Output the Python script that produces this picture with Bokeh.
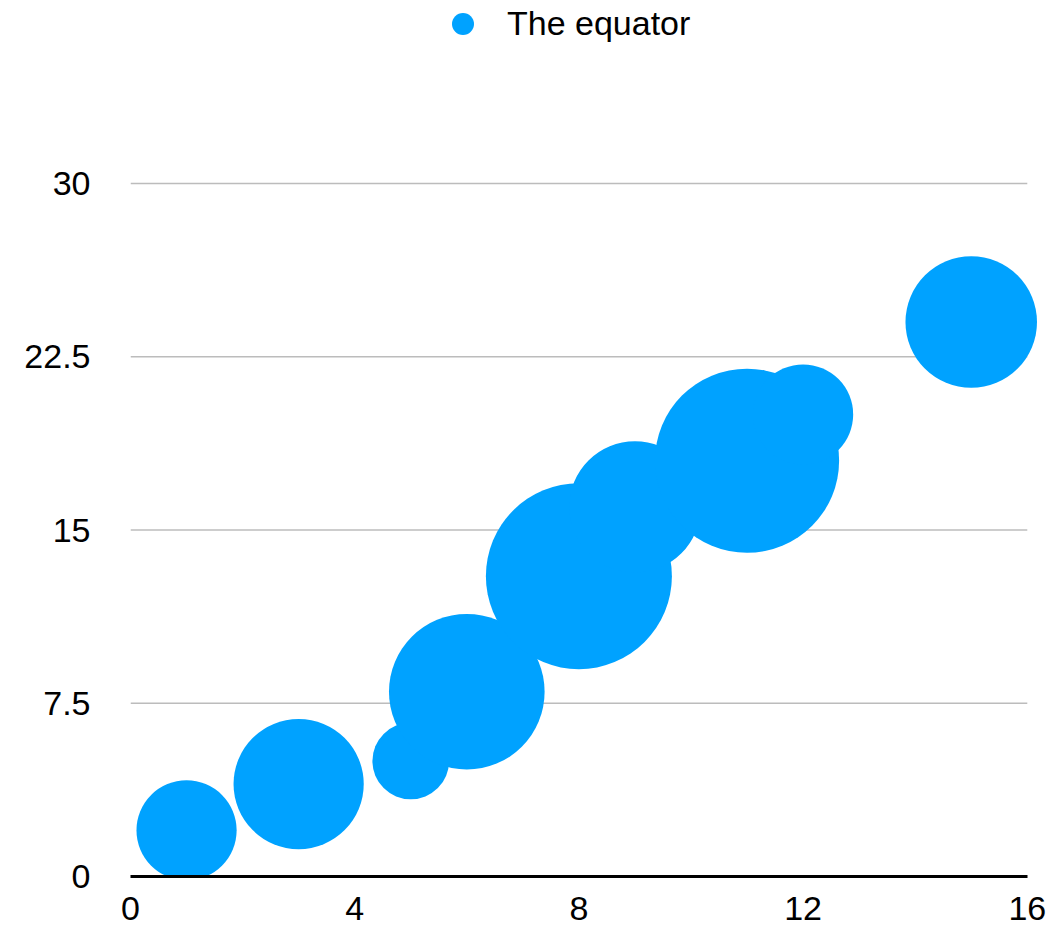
import numpy as np
from bokeh.plotting import figure
from bokeh.models import ColumnDataSource, FixedTicker, Legend, LegendItem, Range1d
from bokeh.embed import file_html
from bokeh.resources import INLINE

# Bubble series "The equator"
x_vals = [1, 3, 5, 6, 8, 9, 11, 12, 15]
y_vals = [2, 4, 5, 8, 13, 16, 18, 20, 24]
bubble_vals = [2.9, 4.9, 1.7, 7.0, 10.0, 5.0, 9.8, 2.9, 5.0]
series_name = "The equator"

x_ticks = [0, 4, 8, 12, 16]
y_ticks = [0, 7.5, 15, 22.5, 30]
y_tick_labels = ["0", "7.5", "15", "22.5", "30"]

FONT = "Liberation Sans"
FONT_SIZE = "34px"
BLUE = "#00A2FF"
MAX_DIAMETER = 186  # pixel diameter of the largest bubble

vals = np.array(bubble_vals, dtype=float)
diam = MAX_DIAMETER * np.sqrt(vals / vals.max())
src = ColumnDataSource(dict(x=x_vals, y=y_vals, d=diam))

# the frame runs to the top of the canvas so the legend can sit inside it;
# the y range above 30 is left empty
PLOT_TOP = 30 * 876 / 693

p = figure(width=1052, height=928, output_backend="svg", toolbar_location=None,
           x_range=Range1d(0, 16.2), y_range=Range1d(0, PLOT_TOP),
           min_border_left=130, min_border_right=14,
           min_border_top=0, min_border_bottom=52)
p.outline_line_color = None
p.background_fill_color = "white"
p.border_fill_color = "white"
p.xgrid.visible = False
p.ygrid.visible = False

# horizontal grid lines spanning the x extent 0..16
p.segment(x0=[0] * len(y_ticks[1:]), x1=[16] * len(y_ticks[1:]),
          y0=y_ticks[1:], y1=y_ticks[1:], line_color="#bcbcbc", line_width=1.5)

bubbles = p.scatter("x", "y", size="d", source=src, fill_color=BLUE, line_color=None)

xa = p.xaxis[0]
xa.ticker = FixedTicker(ticks=x_ticks)
xa.bounds = (0, 16)
xa.axis_line_color = "black"
xa.axis_line_width = 3
xa.major_tick_out = 0
xa.major_tick_in = 0
xa.minor_tick_out = 0
xa.minor_tick_in = 0
xa.major_label_standoff = 20
xa.major_label_text_font = FONT
xa.major_label_text_font_size = FONT_SIZE
xa.major_label_text_color = "black"

ya = p.yaxis[0]
ya.ticker = FixedTicker(ticks=y_ticks)
ya.major_label_overrides = {t: lab for t, lab in zip(y_ticks, y_tick_labels)}
ya.axis_line_color = None
ya.major_tick_out = 0
ya.major_tick_in = 0
ya.minor_tick_out = 0
ya.minor_tick_in = 0
ya.major_label_standoff = 40
ya.major_label_text_font = FONT
ya.major_label_text_font_size = FONT_SIZE
ya.major_label_text_color = "black"

# legend markers are drawn at 0.4 of the glyph box, so a 55px box gives a 22px dot
legend = Legend(items=[LegendItem(label=series_name, renderers=[bubbles])],
                location=(305, 825), orientation="horizontal",
                padding=0, margin=0, spacing=0,
                glyph_width=55, glyph_height=55, label_standoff=17,
                label_height=40, label_text_font=FONT,
                label_text_font_size=FONT_SIZE, label_text_color="black",
                border_line_color=None, background_fill_alpha=0)
p.add_layout(legend, "center")

open("out.html", "w").write(file_html(p, INLINE))
